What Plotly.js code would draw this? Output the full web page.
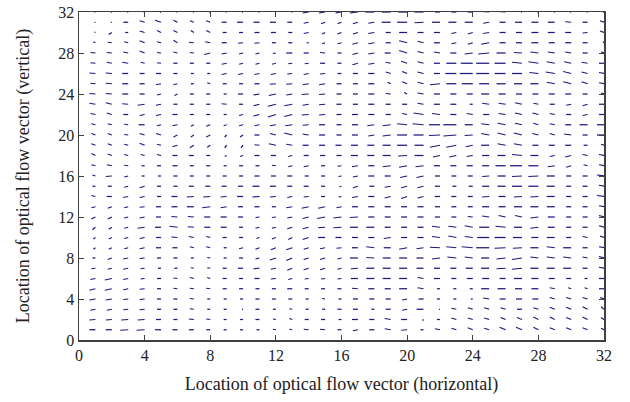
<!DOCTYPE html>
<html><head><meta charset="utf-8">
<script src="https://cdn.plot.ly/plotly-3.0.1.min.js"></script>
<style>html,body{margin:0;padding:0;background:#fff}#chart{width:630px;height:402px}</style>
</head><body><div id="chart"></div>
<script>
// Grid of optical-flow sample locations
const colX = [1,2,3,4,5,6,7,8,9,10,11,12,13,14,15,16,17,18,19,20,21,22,23,24,25,26,27,28,29,30,31,32];
const rowY = [32,31,30,29,28,27,26,25,24,23,22,21,20,19,18,17,16,15,14,13,12,11,10,9,8,7,6,5,4,3,2,1];
const xTicks = [0,4,8,12,16,20,24,28,32];
const yTicks = [0,4,8,12,16,20,24,28,32];

// Flow components (horizontal), one row per rowY entry
const flowU = [
[-1,-1,-1,-1,-1,-1,-1,-1,-1,-1,-1,-1,-1,-6,-6,-6,-8,-9,-9,-9,-9,-5,-5,-5,-8,-8,-1,-1,-1,-1,-1,-1],
[-1,-1,-5,-5,-6,-4,-4,-4,-5,-6,-6,-6,-5,-5,-4,-4,-5,-6,-9,-10,-9,-8,-8,-8,-6,-6,-7,-7,-7,-6,-5,-4],
[-1,-3,-3,-5,-4,-4,-3,-4,-4,-4,-5,-5,-4,-5,-3,-4,-5,-6,-5,-8,-6,-6,-5,-5,-6,-6,-6,-7,-7,-6,-5,-4],
[-2,-4,-4,-5,-4,-4,-5,-5,-5,-5,-5,-4,-4,-2,-3,-4,-5.5,-6,-5,-8,-6,-6,-5,-5,-8,-6,-6,-7,-6,-6,-5,-1],
[-5,-5,-5,-5,-4,-4,-4,-6,-5,-4,-4,-3,-6,-5,-5,-4,-5.5,-6,-6,-8,-6,-6,-6,-8,-11,-9,-8,-8,-7,-6,-5,-3],
[-5,-5,-6,-4,-4,-4,-4,-4,-5,-4,-4,-4,-4,-4,-5,-4,-5.5,-6,-5,-6,-6,-6,-10,-12,-13,-11,-10,-10,-8,-7,-6,-5],
[-6,-6,-6,-5,-5,-4,-3,-3,-5,-5,-5,-5,-5,-5,-5,-4,-5,-6,-5,-5,-6,-6,-11,-13,-13,-11,-10,-9,-9,-8,-6,-5],
[-5,-6,-6,-5,-5,-4,-3,-3,-4,-4,-5,-6,-6,-6,-6,-5,-5,-6,-3,-5,-6,-10,-10,-11,-10,-9,-8,-8,-8,-8,-6,-5],
[-6,-6,-6,-5,-4,-3,-4,-4,-3,-5,-6,-7,-6,-7,-6,-5,-5,-6,-5,-3,-6,-6,-6,-6,-8,-7,-6,-6,-6,-6,-5,-3],
[-6,-6,-6,-7,-5,-4,-4,-4,-5,-4,-6,-8,-8,-6,-6,-5,-5,-6,-5,-5,-6,-6,-6,-3,-7,-7,-7,-5,-5,-5,-5,-5],
[-5,-5,-5,-5,-5,-5,-4,-4,-3,-4,-6,-8,-8,-7,-6,-5,-6,-6,-5,-5,-10,-8,-6,-6,-6,-7,-7,-6,-5,-5,-5,-5],
[-4,-4,-4,-6,-4,-5,-3,-4,-3,-4,-5,-6,-7,-6,-6,-5,-6,-7,-8,-10,-11,-11,-13,-8,-8,-8,-7,-5,-5,-6,-8,-7],
[-4,-4,-4,-5,-5,-4,-3,-4,-2,-3,-5,-6,-8,-6,-6,-5,-6,-6,-8,-10,-10,-11,-13,-8,-8,-8,-8,-6,-5,-7,-5,-7],
[-4,-4,-4,-5,-4,-5,-4,-3,-2,-2,-5,-7,-6,-6,-6,-6,-7,-7,-8,-10,-9,-10,-10,-7,-8,-8,-8,-6,-6,-6,-4,-3],
[-4,-4,-4,-4,-4,-5,-5,-4,-2,-3,-5,-5,-4,-5,-5,-5,-7,-7,-8,-9,-9,-7,-7,-6,-7,-8,-10,-8,-5,-6,-5,-5],
[-4,-5,-4,-3,-4,-5,-4,-4,-3,-4,-4,-4,-4,-5,-4,-4,-6,-6,-8,-8,-8,-6,-6,-6,-7,-10,-12,-10,-7,-5,-4,-5],
[-3,-6,-4,-3,-3,-4,-4,-4,-4,-4,-5,-5,-5,-4,-4,-3,-5,-6,-6,-7,-7,-5,-5,-5,-7,-8,-10,-10,-8,-5,-5,-7],
[-3,-4,-4,-5,-4,-4,-5,-5,-5,-5,-7,-6,-5,-5,-4,-2,-5,-5,-6,-6,-6,-5,-4,-4,-7,-8,-10,-10,-8,-5,-5,-5],
[-4,-5,-5,-5,-4,-6,-7,-7,-6,-6,-7,-6,-5,-5,-4,-3,-6,-6,-6,-6,-6,-5,-5,-5,-7,-7,-8,-8,-8,-5,-5,-7],
[-4,-4,-4,-5,-5,-6,-7,-8,-6,-5,-5,-4,-6,-7,-7,-5,-6,-6,-6,-6,-6,-5,-5,-5,-7,-7,-8,-8,-8,-5,-5,-5],
[-4,-4,-4,-5,-5,-6,-6,-6,-6,-5,-4,-4,-5,-6,-8,-8,-8,-6,-6,-6,-6,-5,-5,-5,-7,-7,-7,-8,-7,-5,-5,-5],
[-3,-3,-4,-7,-6,-8,-6,-6,-6,-4,-4,-4,-5,-6,-7,-8,-8,-8,-6,-6,-6,-8,-8,-8,-10,-10,-8,-8,-7,-5,-5,-5],
[-2,-3,-4,-5,-5,-6,-5,-4,-4,-4,-3,-4,-4,-6,-7,-6,-6,-6,-7,-6,-6,-8,-8,-8,-12,-11,-9,-7,-8,-5,-5,-4],
[-2,-3,-4,-5,-5,-5,-4,-4,-3,-4,-4,-5,-6,-5,-5,-5,-6,-8,-7,-8,-7,-10,-10,-11,-13,-11,-9,-8,-8,-8,-5,-5],
[-3,-4,-5,-5,-4,-4,-3,-3,-3,-4,-4,-6,-6,-5,-5,-4,-8,-8,-8,-8,-7,-8,-9,-8,-8,-9,-10,-8,-8,-8,-5,-5],
[-4,-4,-5,-4,-3,-3,-3,-3,-4,-5,-6,-5,-5,-5,-5,-4,-7,-8,-8,-8,-7,-6,-6,-7,-8,-9,-10,-8,-8,-8,-5,-5],
[-5,-7,-5,-4,-4,-4,-4,-3,-4,-4,-5,-5,-4,-4,-4,-4,-7,-8,-8,-8,-6,-6,-5,-6,-7,-6,-8,-7,-6,-5,-3,-5],
[-6,-7,-5,-5,-4,-4,-4,-4,-4,-4,-4,-4,-5,-4,-4,-4,-6,-6,-6,-8,-6,-3,-3,-3,-8,-8,-7,-7,-5,-3,-3,-5],
[-6,-6,-5,-5,-4,-4,-4,-3,-3,-3,-4,-4,-4,-3,-3,-3,-5,-5,-5,-5,-5,-3,-3,-2,-6,-6,-6,-6,-5,-5,-5,-4],
[-5,-5,-5,-5,-4,-4,-4,-3,-3,-1,-4,-3,-3,-3,-3,-4,-5,-3,-5,-5,-7,-1,-5,-5,-5,-5,-5,-5,-5,-5,-5,-3],
[-6,-6,-7,-7,-5,-4,-5,-4,-3,-3,-4,-3,-3,-4,-4,-3,-6,-5,-6,-6,-1,-3,-5,-5,-5,-5,-5,-5,-5,-5,-5,-3],
[-6,-6,-8,-8,-6,-5,-5,-4,-3,-3,-3,-3,-3,-5,-5,-4,-5,-5,-6,-6,-3,-5,-5,-5,-5,-6,-6,-5,-5,-5,-5,-3]
];

// Flow components (vertical, positive = up), one row per rowY entry
const flowV = [
[0,0,0,0,0,0,0,0,0,0,0,0,0,-1,-1,-1,-1,0,0,0,0,0,0,0,0.5,0.5,0,0,0,0,0,0],
[0,0,0,1.5,2,2,1.5,1.5,0,0,0,0,0,-1,-1.5,-1.5,-1.5,-1,0,0,-0.5,0,0,0,-1,0,0,0,0,0.5,0,1.5],
[0.5,-2,0,1.5,2,2,2,2,0,0,0,0,0,-1,-1.5,-1.5,-1.5,-1,0,0,0,0,-1,-1.5,-1,0,0,0,0,0,-0.5,1.5],
[1,0.5,1,2,1,2.5,0.5,1,0,-0.5,-0.5,0,0,0,-1,-1,-1.5,-1,0,2,1.5,0,-1,-1.5,-1.5,0,0,0,0,0,0,1],
[0.5,0.5,1,2,0.5,1,0.5,-1.5,-1,-1,-1,-0.5,0,0,0.5,0,-1.5,-1,0,2.5,1.5,1,0,-1,-1,0,0.5,1,1,1,0,1],
[0.5,1,1,1,0.5,0,0,0,-1,-1,-1,-1,-0.5,-0.5,0,0,-1.5,-1,1,2,1.5,0,0,0,0,0,1,1.5,1.5,1.5,1,0],
[0.5,0.5,0,0,0,0,0,0,-1,-1,-1,-1,-0.5,-1,-0.5,0,0,0,1.5,2,1.5,0,0,0,0,0,0,1,1.5,2,1.5,1],
[0.5,0.5,0,0,-1,-1,0,1,0,0,0,-0.5,-0.5,-1,-1,0,0,0,1.5,2,1.5,-1,0,0,0,0,0,0,1.5,2,2,1],
[0.5,0.5,0,0,-1,-1.5,0,0,0,0,-1,-1.5,-1,-0.5,-0.5,0,0,0,0.5,1.5,1,0,0,0,0,0,0,0,0,0,0,1],
[1,1.5,0.5,-1,-1,0,0,0,0.5,0,-1.5,-2,-1.5,-1,-0.5,0,0,0,0,0,1,0,0,0,1,1,1.5,1,0,-1,-1.5,0],
[1,1.5,0,-1,-1,0,0,0,0,-1,-1.5,-2.5,-2,-0.5,-0.5,0,0,0,0,1,1.5,1,0,1,0,1,1.5,1.5,1,0,-1,0],
[1,1,0.5,0,-1,-1,-1.5,-1.5,-1,-1,-1,-1,-1,-0.5,0,0,0,-1,-1,1,1,0,0,0,1,1.5,1.5,1.5,1,0,0,0],
[1.5,1.5,0.5,1.5,1.5,-2,-2,-2,-2,-2,0,1.5,2,1,0,0,0,-1,-1,0,0,-0.5,-1,-0.5,1.5,2,2,1.5,1.5,1,0,0],
[1.5,1.5,1,2,1,-1.5,-2.5,-2,-2.5,-2.5,0.5,1.5,1,0,0,0,0,0,0,0,0,-2,-2,-1.5,0,1.5,1.5,0,0,0,0,1],
[2,1.5,1,1,1,0,0,0,-1,-1,0,0,-1,0,0,0,0,0,0,-0.5,0,-1.5,-1.5,-1,0,0,1,0,-1,-1.5,1,1],
[1,1,0.5,0,0,0,0,0,0,0,0,0.5,-1,-1,0,-0.5,-1,0,-1,-1.5,-1,0,0,0,0,0,0,0,-1,-1.5,1,1],
[1,-0.5,-1,0,0,0,0,0,0,0,0,0,0,0,0,-0.5,-1,0,0,-1.5,-1.5,0,0,0,-0.5,0,-0.5,-0.5,0,0,0,1],
[0,0,-1,-1.5,0,0,0,0,0,0,0,0,0,0,0,-0.5,-1.5,0,-1,-1.5,-1.5,0,0,0,0,0,0,0,0,0,0,1],
[1,0,-1,-1,0,0,-0.5,-0.5,-0.5,0,-0.5,-0.5,-1,-0.5,0,-0.5,-1,0,-1.5,-2,-1.5,0,0,0,-0.5,0,-0.5,-0.5,0,0,0,1],
[-1,-1.5,-1,-0.5,0,0,0,-1,-1,0,0,0,-1,-1.5,-1.5,-1,0,0,0,0,0,0,0,0,0,0,0,0,0,0,0,1],
[-2,-2,-1,-1,0,0.5,0.5,0,0,0,-0.5,-0.5,-1,-1.5,-1.5,-1,-0.5,0,0,0,0,0,0,0.5,1,1.5,1.5,-1,0,0,0,1.5],
[-2.5,-2,-1,-1,0,1,0.5,0,0,0,-1,-1,-1.5,-1.5,-0.5,-0.5,0,0,0,0,0,1,1,1.5,0,1,0,-1,0,0,0,1.5],
[-1.5,-1.5,-1,-1,0,0.5,1,1,0,0,-1,-1.5,-2,-2,0,0,0,0,-1,0,0,1,1.5,1,0,0,0,0,0,0,1,1.5],
[-1.5,-1.5,-1,-1,0,0,1,1,0,-1,-1.5,-2,-2,-1.5,-1,-0.5,0,1,0,-1.5,-1,0.5,1,1,0,-0.5,-0.5,0,1,0,0,1],
[0,-1.5,-1,-0.5,0,0,0,0.5,0,0,-1,-2,-2.5,-1.5,-1.5,-1,0,0.5,0,0,0,-1,1,1,0,-1,-1.5,1,1,1,1,1.5],
[-0.5,-1,-1,-0.5,0,0,0.5,0.5,0,0,-0.5,-1,-2,-1.5,-1.5,-1,-0.5,0,0,0,0,0,0,0,0,-0.5,-1,0,0,0,0,1],
[-1,-1.5,-1,-0.5,0,0.5,1,1,0,0,0,-0.5,-1,-0.5,-0.5,-0.5,0,0,0,0,1,0,0,0,0,0,0,0,0,0,0,0],
[-1.5,-1.5,-1,-0.5,0,0.5,0.5,0.5,0,0,0,0,0,0,0,0,0.5,0,0,0,1,0,0,0,0,0,0,0,1,1,1,0],
[-1,-1,-0.5,-0.5,0,0,0.5,0,0,0,0,0,0,0,0.5,0,0,0,0,-1,0,0,0,0,1,0,0,0,1.5,1.5,1.5,1.5],
[-1,-1,-0.5,-0.5,0,0,0.5,0,0,0,0,0,0.5,0,0,0,0,0,0,-1,0,0,1,1.5,1.5,1.5,0,1.5,2,2,2.5,2.5],
[-0.5,-0.5,-0.5,-0.5,0,0,0.5,0.5,0,0,0,0.5,1,0,0,0,0,0,1,0,-1,0,1.5,1.5,1.5,2,2,2.5,2.5,2,2.5,2],
[0,0,-0.5,-0.5,0,0,0,0,0,0,0,0.5,0.5,0.5,0.5,0,-1,0,1,-0.5,0,1,1.5,2,1.5,2.5,2.5,2.5,2,2,2,1.5]
];

// quiver scaling: flow drawn isotropically on screen
const plotW = 525, plotH = 328;
const sx = 32 / plotW, sy = 32 / plotH;

const xs = [], ys = [];
for (let r = 0; r < rowY.length; r++) {
  for (let c = 0; c < colX.length; c++) {
    const u = flowU[r][c], v = flowV[r][c];
    const x0 = colX[c], y0 = rowY[r];
    xs.push(x0, x0 + u * sx, null);
    ys.push(y0, y0 + v * sy, null);
  }
}

const trace = {
  type: 'scatter', mode: 'lines', x: xs, y: ys,
  line: {color: '#1a1a80', width: 1.25},
  hoverinfo: 'skip', showlegend: false
};

const fontFam = '"Liberation Serif", "Times New Roman", serif';
const axisCommon = {
  range: [0, 32], showgrid: false, zeroline: false,
  showline: true, linecolor: '#404040', linewidth: 1.5, mirror: 'ticks',
  ticks: 'inside', ticklen: 5, tickcolor: '#404040', tickwidth: 1,
  tickfont: {family: fontFam, size: 16, color: '#222'}
};

const layout = {
  width: 630, height: 402,
  margin: {l: 79, r: 26, t: 12, b: 62},
  paper_bgcolor: '#fff', plot_bgcolor: '#fff',
  xaxis: Object.assign({}, axisCommon, {
    tickvals: xTicks, ticktext: xTicks.map(String),
    title: {text: 'Location of optical flow vector (horizontal)', font: {family: fontFam, size: 18, color: '#222'}, standoff: 14}
  }),
  yaxis: Object.assign({}, axisCommon, {
    tickvals: yTicks, ticktext: yTicks.map(String),
    title: {text: 'Location of optical flow vector (vertical)', font: {family: fontFam, size: 18, color: '#222'}, standoff: 24}
  })
};

Plotly.newPlot('chart', [trace], layout, {staticPlot: true, displayModeBar: false});
</script>
</body></html>
